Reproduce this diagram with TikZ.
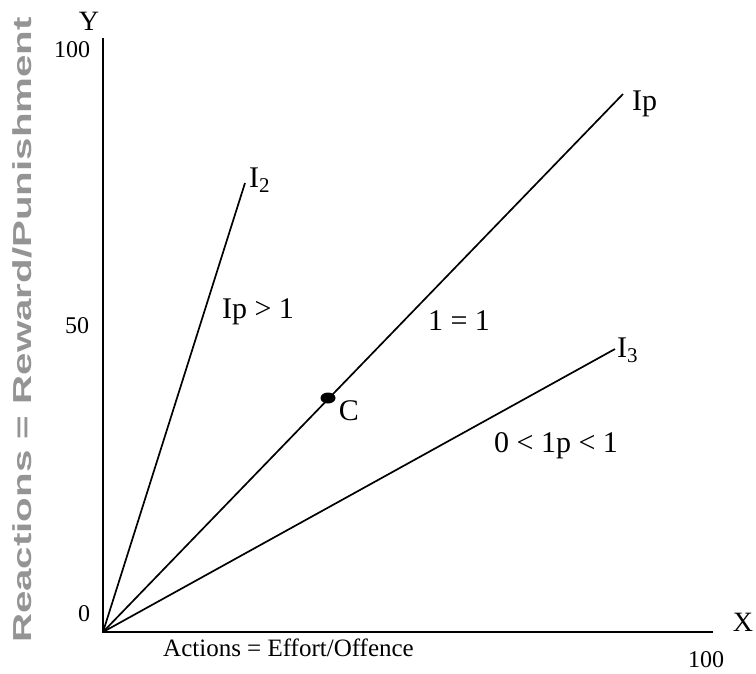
\documentclass[tikz,border=0pt]{standalone}
\usepackage{fontspec}
\setmainfont{Liberation Serif}
\newfontfamily\axisfont{Liberation Sans}
\usetikzlibrary{positioning,shapes.geometric}
\tikzset{
  axisline/.style={line width=1.8pt},
  rayline/.style={line width=1.7pt},
  lbl/.style={font=\fontsize{30}{34}\selectfont,inner sep=0pt},
  axlbl/.style={font=\fontsize{28}{32}\selectfont,inner sep=0pt},
  tick/.style={font=\fontsize{24}{27}\selectfont,inner sep=0pt},
  cdot/.style={ellipse,fill=black,minimum width=15pt,minimum height=11pt,inner sep=0pt}
}
\begin{document}
\begin{tikzpicture}[x=1pt,y=-1pt]
\useasboundingbox (0,0) rectangle (756,673);
% axes
\coordinate (o) at (103,632);
\coordinate (ytop) at (103,38);
\coordinate (xend) at (713,632);
\draw[axisline] (ytop) -- (o) -- (xend);
\node[axlbl] (ylab) at (89,21) {Y};
\node[axlbl] (xlab) at (743,622) {X};
\node[tick] (y100) at (72,50) {100};
\node[tick] (y50) at (77,326) {50};
\node[tick] (y0) at (84,614) {0};
\node[tick] (x100) at (706,660) {100};
\node[font=\fontsize{25}{28}\selectfont,inner sep=0pt,anchor=west] (xtitle) at (163,648) {Actions = Effort/Offence};
\node[font=\axisfont\bfseries\fontsize{26}{30}\selectfont,text=black!42,rotate=90,inner sep=0pt] (ytitle) at (22,330) {\scalebox{1.55}[1]{Reactions = Reward/Punishment}};
% rays
\coordinate (i2end) at (245,183);
\coordinate (ipend) at (623,94);
\coordinate (i3end) at (615,349);
\draw[rayline] (o) -- (i2end);
\draw[rayline] (o) -- (ipend);
\draw[rayline] (o) -- (i3end);
\node[cdot] (c) at (328,398) {};
\node[lbl] (clab) at (349,411) {C};
\node[lbl,anchor=west] (i2lab) at (249,180) {I\textsubscript{2}};
\node[lbl,anchor=west] (iplab) at (632,104) {Ip};
\node[lbl,anchor=west] (i3lab) at (617,350) {I\textsubscript{3}};
% regions
\node[lbl] (r1) at (258,312) {Ip > 1};
\node[lbl] (r2) at (459,321) {1 = 1};
\node[lbl] (r3) at (556,446) {0 < 1p < 1};
\end{tikzpicture}
\end{document}
